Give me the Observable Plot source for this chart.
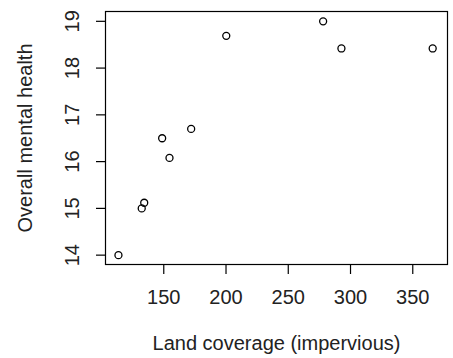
<!DOCTYPE html>
<html>
<head>
<meta charset="utf-8">
<script src="https://cdn.jsdelivr.net/npm/d3@7"></script>
<script src="https://cdn.jsdelivr.net/npm/@observablehq/plot@0.6"></script>
<style>
  html, body { margin: 0; padding: 0; background: #fff; }
  svg { display: block; }
</style>
</head>
<body>
<div id="chart"></div>
<script>
const landCoverage = [113.6, 132.3, 134.3, 148.7, 154.6, 172.0, 200.2, 278.0, 292.7, 366.0];
const mentalHealth = [14.0, 15.0, 15.12, 16.5, 16.08, 16.7, 18.69, 19.0, 18.42, 18.42];
const xTicks = [150, 200, 250, 300, 350];
const yTicks = [14, 15, 16, 17, 18, 19];
const xLabel = "Land coverage (impervious)";
const yLabel = "Overall mental health";

const data = landCoverage.map((x, i) => ({x, y: mentalHealth[i]}));

const font = "Liberation Sans, Arial, sans-serif";
const fs = 20;

const chart = Plot.plot({
  width: 453,
  height: 358,
  marginLeft: 105,
  marginRight: 6,
  marginTop: 11,
  marginBottom: 94,
  style: {fontFamily: font, fontSize: fs + "px", color: "#000", background: "#fff"},
  x: {domain: [103.2, 377.9]},
  y: {domain: [13.80, 19.21]},
  marks: [
    Plot.frame({stroke: "#000", strokeWidth: 1.2}),
    Plot.axisX({ticks: xTicks, tickSize: 10, tickFormat: () => "", label: null, strokeWidth: 1.2}),
    Plot.axisY({ticks: yTicks, tickSize: 9, tickFormat: () => "", label: null, strokeWidth: 1.2}),
    Plot.text(xTicks, {x: d => d, text: d => String(d), frameAnchor: "bottom", textAnchor: "middle", dy: 39, fill: "#222", fontSize: fs}),
    Plot.text(yTicks, {y: d => d, text: d => String(d), frameAnchor: "left", textAnchor: "middle", dx: -33, rotate: -90, fill: "#222", fontSize: fs}),
    Plot.text([xLabel], {text: d => d, frameAnchor: "bottom", textAnchor: "middle", dy: 85, fill: "#222", fontSize: fs}),
    Plot.text([yLabel], {text: d => d, frameAnchor: "left", textAnchor: "middle", dx: -80, rotate: -90, fill: "#222", fontSize: fs}),
    Plot.dot(data, {x: "x", y: "y", r: 3.5, stroke: "#000", strokeWidth: 1.3, fill: "none"})
  ]
});
document.getElementById("chart").append(chart);
</script>
</body>
</html>
